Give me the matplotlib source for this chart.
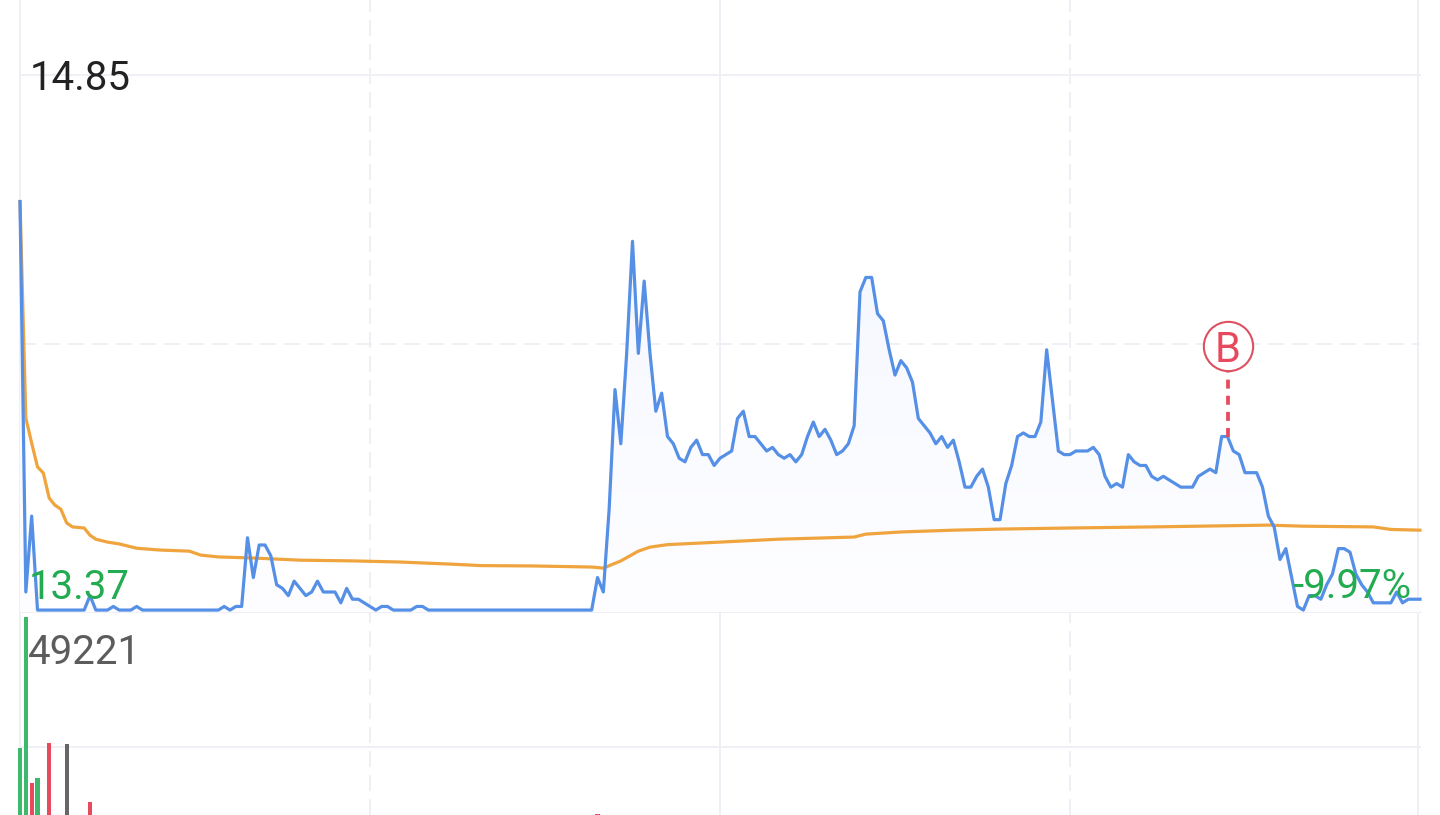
import numpy as np
import matplotlib
matplotlib.use("Agg")
import matplotlib.pyplot as plt
from matplotlib.colors import LinearSegmentedColormap

plt.rcParams['font.family'] = ['Roboto', 'DejaVu Sans']

# ---- data ----
price = [
    14.50, 13.42, 13.63, 13.37, 13.37, 13.37, 13.37, 13.37, 13.37, 13.37,
    13.37, 13.37, 13.41, 13.37, 13.37, 13.37, 13.38, 13.37, 13.37, 13.37,
    13.38, 13.37, 13.37, 13.37, 13.37, 13.37, 13.37, 13.37, 13.37, 13.37,
    13.37, 13.37, 13.37, 13.37, 13.37, 13.38, 13.37, 13.38, 13.38, 13.57,
    13.46, 13.55, 13.55, 13.52, 13.44, 13.43, 13.41, 13.45, 13.43, 13.41,
    13.42, 13.45, 13.42, 13.42, 13.42, 13.39, 13.43, 13.40, 13.40, 13.39,
    13.38, 13.37, 13.38, 13.38, 13.37, 13.37, 13.37, 13.37, 13.38, 13.38,
    13.37, 13.37, 13.37, 13.37, 13.37, 13.37, 13.37, 13.37, 13.37, 13.37,
    13.37, 13.37, 13.37, 13.37, 13.37, 13.37, 13.37, 13.37, 13.37, 13.37,
    13.37, 13.37, 13.37, 13.37, 13.37, 13.37, 13.37, 13.37, 13.37, 13.46,
    13.42, 13.65, 13.98, 13.83, 14.08, 14.39, 14.08, 14.28, 14.08, 13.92,
    13.97, 13.85, 13.83, 13.79, 13.78, 13.82, 13.84, 13.80, 13.80, 13.77,
    13.79, 13.80, 13.81, 13.90, 13.92, 13.85, 13.85, 13.83, 13.81, 13.82,
    13.80, 13.79, 13.80, 13.78, 13.80, 13.85, 13.89, 13.85, 13.87, 13.84,
    13.80, 13.81, 13.83, 13.88, 14.25, 14.29, 14.29, 14.19, 14.17, 14.09,
    14.02, 14.06, 14.04, 14.00, 13.90, 13.88, 13.86, 13.83, 13.85, 13.82,
    13.84, 13.78, 13.71, 13.71, 13.74, 13.76, 13.71, 13.62, 13.62, 13.72,
    13.77, 13.85, 13.86, 13.85, 13.85, 13.89, 14.09, 13.95, 13.81, 13.80,
    13.80, 13.81, 13.81, 13.81, 13.82, 13.80, 13.74, 13.71, 13.72, 13.71,
    13.80, 13.78, 13.77, 13.77, 13.74, 13.73, 13.74, 13.73, 13.72, 13.71,
    13.71, 13.71, 13.74, 13.75, 13.76, 13.75, 13.85, 13.85, 13.81, 13.80,
    13.75, 13.75, 13.75, 13.71, 13.63, 13.60, 13.51, 13.54, 13.46, 13.38,
    13.37, 13.41, 13.41, 13.40, 13.44, 13.47, 13.54, 13.54, 13.53, 13.47,
    13.44, 13.42, 13.39, 13.39, 13.39, 13.39, 13.42, 13.39, 13.40, 13.40,
    13.40,
]

avg_minutes = [0, 1, 2, 3, 4, 5, 6, 7, 8, 9, 11, 12, 13, 15, 17, 20, 24, 29, 31, 34,
               40, 48, 57, 65, 74, 79, 88, 98, 100, 103, 106, 108, 111, 120, 130,
               143, 145, 151, 160, 168, 180, 194, 214, 220, 232, 235, 240]
avg_price = [14.500, 13.901, 13.832, 13.766, 13.749, 13.680, 13.660, 13.649, 13.611,
             13.600, 13.597, 13.577, 13.566, 13.558, 13.553, 13.541, 13.536, 13.533,
             13.522, 13.517, 13.514, 13.508, 13.506, 13.503, 13.497, 13.493, 13.492,
             13.489, 13.486, 13.506, 13.533, 13.544, 13.551, 13.558, 13.566, 13.572,
             13.580, 13.586, 13.591, 13.594, 13.597, 13.600, 13.605, 13.602, 13.600,
             13.593, 13.591]

vol_minutes = [0, 1, 2, 3, 5, 8, 12, 99]
vol_values = [24420, 49221, 17795, 18741, 25367, 25177, 14198, 11926]
vol_kinds = ['down', 'down', 'up', 'down', 'up', 'flat', 'up', 'up']

prev_close = 14.85
mid_price = 14.105
mid_volume = 24610
buy_minute = 207
buy_price = 13.85
buy_marker_price = 14.10
grid_minutes_solid = [0, 120, 239.7]
grid_minutes_dashed = [60, 180]

label_high = "14.85"
label_low = "13.37"
label_volume = "49221"
label_pct = "-9.97%"

# ---- style ----
GRID = '#eff0f5'
BLUE = '#5590e6'
ORANGE = '#f0a43e'
GREEN = '#22ab50'
BAR_COLORS = {'down': '#3cb96b', 'up': '#e64a5c', 'flat': '#666666'}
W, H = 1440, 815
SPLIT = 612
PX = 1400 / 240          # pixels per minute
PP = 0.002766            # price per pixel
VP = 189.3               # volume per pixel

fig = plt.figure(figsize=(W / 100, H / 100), dpi=100, facecolor='white')
ax = fig.add_axes([0, 1 - SPLIT / H, 1, SPLIT / H])
av = fig.add_axes([0, 0, 1, 1 - SPLIT / H])
xlim = (-20 / PX, (W - 20) / PX)
ax.set_xlim(xlim)
av.set_xlim(xlim)
ax.set_ylim(prev_close - (SPLIT - 75) * PP, prev_close + 75 * PP)
av.set_ylim(62 * VP, 265 * VP)
for a in (ax, av):
    a.axis('off')

dash = dict(color=GRID, lw=1.44, dashes=(8, 4), zorder=1)
solid = dict(color=GRID, lw=1.44, zorder=1)
for a in (ax, av):
    for m in grid_minutes_solid:
        a.axvline(m, **solid)
    for m in grid_minutes_dashed:
        a.axvline(m, **dash)
span = [0, 240]
ax.plot(span, [prev_close] * 2, **solid)
ax.plot(span, [mid_price] * 2, **dash)
ax.plot(span, [ax.get_ylim()[0]] * 2, clip_on=False, **solid)
av.plot(span, [mid_volume] * 2, **solid)

x = np.arange(len(price))

# area under the price line with a vertical gradient
cmap = LinearSegmentedColormap.from_list('fade', ['#fefeff', '#f4f7ff'])
poly = ax.fill_between(x, price, ax.get_ylim()[0], color='none', lw=0)
ylim = ax.get_ylim()
img = ax.imshow(np.linspace(1, 0, 256).reshape(-1, 1), cmap=cmap, vmin=0, vmax=1,
                extent=(0, 240, ylim[0], 14.5), aspect='auto', zorder=1.5)
img.set_clip_path(poly.get_paths()[0], transform=ax.transData)
ax.set_xlim(xlim)
ax.set_ylim(ylim)

ax.plot(avg_minutes, avg_price, color=ORANGE, lw=2.3, solid_joinstyle='round', zorder=3)
ax.plot(x, price, color=BLUE, lw=2.3, solid_joinstyle='round', zorder=4)

# buy marker
ax.plot([buy_minute, buy_minute], [buy_price, 14.04], color='#e64a5c', lw=2.7,
        dashes=(2.4, 1.9), zorder=5)
ax.plot([buy_minute], [buy_marker_price], 'o', ms=35.5, mfc='white', mec='#dc5060',
        mew=1.5, zorder=6)
ax.text(buy_minute, buy_marker_price, 'B', color='#e64a5c', fontsize=30, ha='center',
        va='center_baseline', zorder=7)

# volume bars
av.bar(vol_minutes, vol_values, width=0.69, color=[BAR_COLORS[k] for k in vol_kinds],
       zorder=3)


def label(px, py, s, color, ha='left'):
    fig.text(px / W, 1 - py / H, s, color=color, fontsize=29, ha=ha, va='baseline')


label(30, 90, label_high, '#222222')
label(29, 599, label_low, GREEN)
label(28, 664, label_volume, '#5c5c5c')
label(1411, 598, label_pct, GREEN, ha='right')

fig.savefig('out.png', dpi=100, facecolor='white')
